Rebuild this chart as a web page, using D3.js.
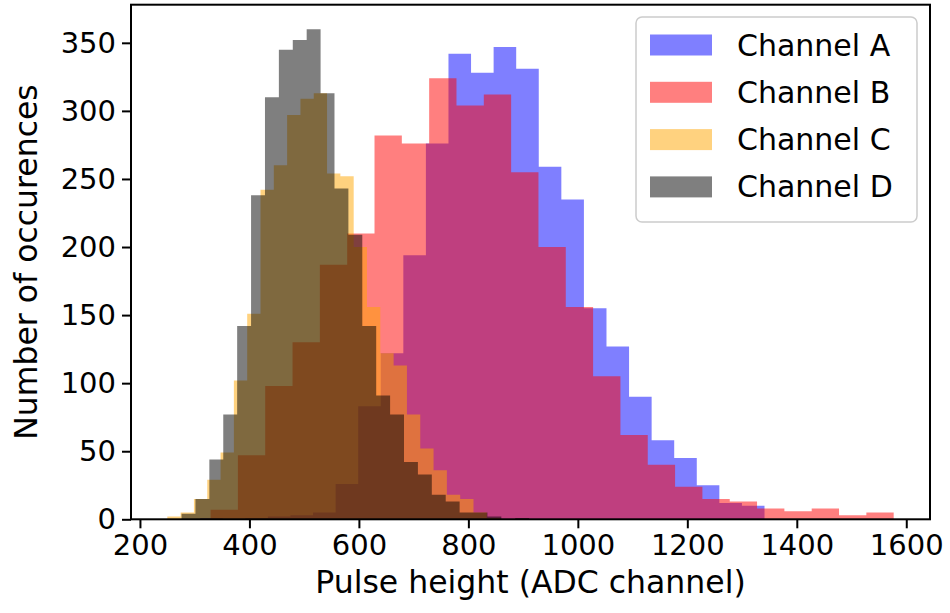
<!DOCTYPE html>
<html>
<head>
<meta charset="utf-8">
<script src="https://cdn.jsdelivr.net/npm/d3@7"></script>
<style>
  body { margin: 0; background: #fff; }
  svg text { font-family: "DejaVu Sans", sans-serif; fill: #000; }
</style>
</head>
<body>
<svg id="chart" width="950" height="613"></svg>
<script>
// four ADC channels, 25 bins each, histogram range [min, max] per channel
var channels = ['Channel A', 'Channel B', 'Channel C', 'Channel D'];
var colors = ['#0000ff', '#ff0000', '#ffa500', '#000000'];
var nBins = 25;

var rangeA = [310, 1341];
var rangeB = [329, 1577];
var rangeC = [250, 858];
var rangeD = [276, 911];

var countsA = [1, 0, 1, 2, 3, 5, 26, 83, 122, 194, 276, 342, 328, 347, 331, 259, 235, 155, 127, 90, 58, 45, 25, 12, 10];
var countsB = [7, 47, 98, 130, 187, 210, 282, 276, 324, 304, 312, 255, 200, 156, 105, 62, 40, 24, 15, 13, 8, 6, 8, 3, 5];
var countsC = [2, 5, 15, 29, 49, 102, 151, 242, 260, 297, 309, 313, 254, 252, 200, 156, 122, 113, 77, 52, 36, 18, 15, 5, 1];
var countsD = [4, 15, 44, 77, 142, 238, 310, 345, 352, 360, 313, 243, 209, 142, 91, 77, 42, 33, 18, 13, 5, 5, 2, 0, 1];

var xTicks = [200, 400, 600, 800, 1000, 1200, 1400, 1600];
var yTicks = [0, 50, 100, 150, 200, 250, 300, 350];

var ranges = [rangeA, rangeB, rangeC, rangeD];
var counts = [countsA, countsB, countsC, countsD];

var fs = 29, labelFs = 31.5, legendFs = 30;
var plotLeft = 131, plotRight = 930, plotTop = 4.7, plotBottom = 519.3;

var svg = d3.select('#chart');

// matplotlib style autoscale: 5% margin in x, 5% headroom in y
var lo = d3.min(ranges, function(r) { return r[0]; });
var hi = d3.max(ranges, function(r) { return r[1]; });
var pad = (hi - lo) * 0.05;
var x = d3.scaleLinear().domain([lo - pad, hi + pad]).range([plotLeft, plotRight]);
var yMax = d3.max(counts, function(c) { return d3.max(c); }) * 1.05;
var y = d3.scaleLinear().domain([0, yMax]).range([plotBottom, plotTop]);

function steps(r, c) {
    var w = (r[1] - r[0]) / nBins;
    var pts = c.map(function(v, k) { return {x: r[0] + k * w, c: v}; });
    pts.push({x: r[1], c: c[c.length - 1]});
    return pts;
}

var area = d3.area()
    .x(function(d) { return x(d.x); })
    .y0(y(0))
    .y1(function(d) { return y(d.c); })
    .curve(d3.curveStepAfter);

svg.append('g').selectAll('path').data(channels).enter().append('path')
    .attr('d', function(d, i) { return area(steps(ranges[i], counts[i])); })
    .attr('fill', function(d, i) { return colors[i]; })
    .attr('fill-opacity', 0.5);

// axes
var xAxis = d3.axisBottom(x).tickValues(xTicks).tickSize(9).tickPadding(6).tickFormat(d3.format('d'));
var yAxis = d3.axisLeft(y).tickValues(yTicks).tickSize(9).tickPadding(6).tickFormat(d3.format('d'));

var gx = svg.append('g').attr('transform', 'translate(0,' + plotBottom + ')').call(xAxis);
var gy = svg.append('g').attr('transform', 'translate(' + plotLeft + ',0)').call(yAxis);
[gx, gy].forEach(function(g) {
    g.select('.domain').remove();
    g.selectAll('line').attr('stroke', '#000').attr('stroke-width', 2);
    g.selectAll('text').attr('font-size', fs).attr('font-family', 'DejaVu Sans').attr('fill', '#000');
});

svg.append('rect')
    .attr('x', plotLeft).attr('y', plotTop)
    .attr('width', plotRight - plotLeft).attr('height', plotBottom - plotTop)
    .attr('fill', 'none').attr('stroke', '#000').attr('stroke-width', 2);

svg.append('text')
    .attr('x', (plotLeft + plotRight) / 2).attr('y', 593)
    .attr('text-anchor', 'middle').attr('font-size', labelFs)
    .text('Pulse height (ADC channel)');

svg.append('text')
    .attr('transform', 'translate(37,' + ((plotTop + plotBottom) / 2) + ') rotate(-90)')
    .attr('text-anchor', 'middle').attr('font-size', labelFs)
    .text('Number of occurences');

// legend
var lg = svg.append('g').attr('transform', 'translate(636,17)');
lg.append('rect')
    .attr('width', 281).attr('height', 205).attr('rx', 6)
    .attr('fill', '#fff').attr('fill-opacity', 0.8)
    .attr('stroke', '#cccccc').attr('stroke-width', 1.5);
var rows = lg.selectAll('.row').data(channels).enter().append('g')
    .attr('class', 'row')
    .attr('transform', function(d, i) { return 'translate(0,' + (28 + i * 47.3) + ')'; });
rows.append('rect')
    .attr('x', 14).attr('y', -10.5).attr('width', 62).attr('height', 21)
    .attr('fill', function(d, i) { return colors[i]; })
    .attr('fill-opacity', 0.5);
rows.append('text')
    .attr('x', 101).attr('dy', '0.35em').attr('font-size', legendFs)
    .text(function(d) { return d; });
</script>
</body>
</html>
